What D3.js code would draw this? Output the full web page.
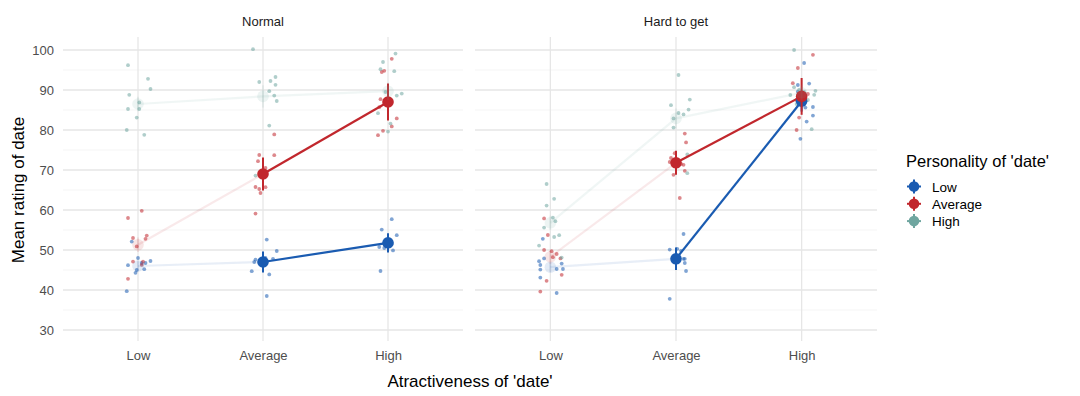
<!DOCTYPE html>
<html><head><meta charset="utf-8">
<script src="https://cdn.jsdelivr.net/npm/d3@7"></script>
<style>body{margin:0;background:#fff}svg{display:block;font-family:"Liberation Sans",Arial,sans-serif}</style>
</head><body><svg id="c" width="1080" height="396"></svg>
<script>
// ---- data ----
const panels = ["Normal", "Hard to get"];
const attractiveness = ["Low", "Average", "High"];
const personality = ["Low", "Average", "High"];
const yTicks = [30, 40, 50, 60, 70, 80, 90, 100];
const colors = ["#1a5bb1", "#c1272d", "#6fa6a0"];

// means [panel][personality][attractiveness]
const means = [
  [[46.0, 47.0, 51.8], [51.3, 69.0, 87.0], [86.5, 88.4, 89.7]],
  [[45.7, 47.8, 87.2], [48.3, 71.8, 88.4], [56.8, 82.9, 89.3]]
];
const ses = [
  [[1.2, 2.6, 2.4], [1.8, 4.1, 4.6], [1.8, 2.8, 2.2]],
  [[1.2, 2.8, 2.6], [1.8, 3.0, 4.6], [1.8, 2.5, 2.0]]
];

// raw values [panel][personality][attractiveness]
const rawValues = [
  [
    [[52.1,48,47.25,46.75,46.75,46.2,45.2,45,44.3,39.7],
     [52.6,49.75,47.6,47,47.8,44.7,43.9,38.5,47.5,48],
     [57.7,55.1,53.7,50.75,49.9,44.75,52,51.5,50.5]],
    [[59.8,58,53.6,52.8,53,50.9,47.1,47.1,46.3,42.8],
     [78.9,73.75,73.7,72.2,70.5,65.75,65.25,65.7,64.25,59.1],
     [97.8,94.8,94.5,87.7,85.7,82.9,80.9,79.8,78.7,87]],
    [[96.2,92.8,90.25,88.8,86.9,85.25,85.25,83.1,80,78.8],
     [100.2,93.25,92,92.25,91.3,89.7,88.6,87.25,81.1,68.6],
     [99.1,97,95.2,94.7,89.1,88.6,84.2,81.6,79.6,89.5]]
  ],
  [
    [[52.8,47.9,47.2,46.25,46.6,45.1,45.25,45.25,43.1,39.25],
     [54,50.1,50.3,49.8,47.8,47.8,46.75,44.75,37.8,48.2],
     [96.75,91.6,91.25,89.6,85.75,83.6,82.1,77.8,85.6,88]],
    [[57.9,53.75,50,49.7,49,48.2,47.9,43.8,42.3,39.6],
     [79.1,76.9,74.2,73,71.3,69.8,68.8,63,72,71.5],
     [98.8,95.5,91.7,87.5,83.1,80,88.5,89,88,87]],
    [[66.5,62.8,61.1,58.1,57.2,55.6,53.7,53.25,51.1,48.1],
     [93.75,87.6,86.2,85.1,84.25,83.9,82.9,80.6,73.9,69.2],
     [100,90.7,89.8,88.75,88.8,86.5,80.2,89.5,87.5,90]]
  ]
];
// horizontal jitter in category units, same layout as rawValues
const rawJitter = [
  [
    [[-0.05,0,0.10,0.06,0.03,-0.08,0.05,-0.01,-0.02,-0.09],
     [0.03,0.11,-0.06,-0.07,0.08,-0.09,0.05,0.03,0,0.02],
     [0.03,-0.05,0.07,-0.07,0.04,-0.06,-0.02,0.03,-0.03]],
    [[0.03,-0.08,0.07,0.06,-0.04,-0.01,-0.04,0.04,0.03,-0.08],
     [0.09,-0.03,0.09,-0.04,0.02,-0.06,-0.03,0.02,-0.02,-0.06],
     [0.03,-0.03,-0.05,-0.06,-0.07,0.07,0.03,-0.04,-0.08,0.01]],
    [[-0.08,0.08,0.10,-0.07,0.01,-0.08,0.01,-0.01,-0.09,0.05],
     [-0.08,0.10,-0.03,0.06,0.10,0.05,0.09,0.11,0.05,-0.06],
     [0.06,-0.04,-0.06,0.05,0.11,0.07,-0.08,0.02,0,-0.02]]
  ],
  [
    [[-0.06,-0.05,-0.09,-0.08,0.09,-0.08,0.05,0.10,-0.08,0.05],
     [0.06,-0.05,0.01,0.04,0.06,0.07,0.07,0.08,-0.05,-0.02],
     [0.02,0.06,-0.03,-0.03,0.09,0.09,0.04,-0.01,0.03,-0.02]],
    [[-0.05,-0.02,-0.05,0.01,0.05,0.02,0.08,0.09,-0.03,-0.08],
     [0.07,0.08,-0.01,-0.04,0.06,0.07,-0.02,0.03,-0.05,0.04],
     [0.09,-0.03,-0.07,-0.04,-0.02,-0.04,0.01,0.05,0.03,-0.02]],
    [[-0.03,0.03,-0.03,0.02,0.04,-0.05,0.07,0.03,-0.09,0.09],
     [0.02,0.11,-0.04,0.10,0.02,0.06,-0.02,-0.02,0.09,0.09],
     [-0.06,-0.06,0.11,-0.09,0.10,-0.04,0.08,0.02,0.05,-0.02]]
  ]
];

// ---- layout ----
const svg = d3.select("#c");
const panelRanges = [[63, 463], [475, 877]];
const plotTop = 37, plotBottom = 341;
const y = d3.scaleLinear().domain([27.25, 103.25]).range([plotBottom, plotTop]);
const font = '"Liberation Sans", Arial, sans-serif';
const solid = (pi, ai) => pi !== 2 && ai !== 0;

panels.forEach((pname, p) => {
  const x = d3.scalePoint().domain(attractiveness).range(panelRanges[p]).padding(0.6);
  const g = svg.append("g");
  const [x0, x1] = panelRanges[p];
  g.selectAll(".minor").data(d3.range(35, 100, 10)).join("line")
    .attr("x1", x0).attr("x2", x1).attr("y1", d => y(d)).attr("y2", d => y(d))
    .attr("stroke", "#f0f0f0").attr("stroke-width", 0.7);
  g.selectAll(".major").data(yTicks).join("line")
    .attr("x1", x0).attr("x2", x1).attr("y1", d => y(d)).attr("y2", d => y(d))
    .attr("stroke", "#e6e6e6").attr("stroke-width", 1.3);
  g.selectAll(".vgrid").data(attractiveness).join("line")
    .attr("x1", d => x(d)).attr("x2", d => x(d)).attr("y1", plotTop).attr("y2", plotBottom)
    .attr("stroke", "#e6e6e6").attr("stroke-width", 1.3);
  svg.append("text").attr("x", (x0 + x1) / 2).attr("y", 26).attr("text-anchor", "middle")
    .attr("font-size", 13).attr("fill", "#1a1a1a").text(pname);
  const ax = svg.append("g").attr("transform", `translate(0,${plotBottom + 3})`)
    .call(d3.axisBottom(x).tickSize(0).tickPadding(7));
  ax.select(".domain").remove();
  ax.selectAll("text").attr("font-size", 13).attr("fill", "#4d4d4d").attr("font-family", font);

  const step = x.step();
  personality.forEach((per, pi) => {
    attractiveness.forEach((att, ai) => {
      const vals = rawValues[p][pi][ai];
      const jit = rawJitter[p][pi][ai];
      g.selectAll(null).data(vals).join("circle")
        .attr("cx", (d, i) => x(att) + jit[i] * step)
        .attr("cy", d => y(d)).attr("r", 1.9)
        .attr("fill", colors[pi]).attr("fill-opacity", 0.55);
    });
  });
  personality.forEach((per, pi) => {
    for (let ai = 0; ai < 2; ai++) {
      const s = solid(pi, ai) && solid(pi, ai + 1);
      g.append("line")
        .attr("x1", x(attractiveness[ai])).attr("y1", y(means[p][pi][ai]))
        .attr("x2", x(attractiveness[ai + 1])).attr("y2", y(means[p][pi][ai + 1]))
        .attr("stroke", colors[pi]).attr("stroke-width", 2.2)
        .attr("stroke-opacity", s ? 1 : 0.1);
    }
  });
  personality.forEach((per, pi) => {
    attractiveness.forEach((att, ai) => {
      const s = solid(pi, ai);
      const m = means[p][pi][ai], se = ses[p][pi][ai];
      g.append("line").attr("x1", x(att)).attr("x2", x(att))
        .attr("y1", y(m - se)).attr("y2", y(m + se))
        .attr("stroke", colors[pi]).attr("stroke-width", 2)
        .attr("stroke-opacity", s ? 1 : 0.1);
      g.append("circle").attr("cx", x(att)).attr("cy", y(m)).attr("r", 5.8)
        .attr("fill", colors[pi]).attr("fill-opacity", s ? 1 : 0.12);
    });
  });
});

const ay = svg.append("g").attr("transform", "translate(58,0)")
  .call(d3.axisLeft(y).tickValues(yTicks).tickSize(0).tickPadding(4));
ay.select(".domain").remove();
ay.selectAll("text").attr("font-size", 13).attr("fill", "#4d4d4d").attr("font-family", font);

svg.append("text").attr("x", 470).attr("y", 387).attr("text-anchor", "middle")
  .attr("font-size", 17).attr("fill", "#000").text("Atractiveness of 'date'");
svg.append("text").attr("transform", "translate(24,190) rotate(-90)").attr("text-anchor", "middle")
  .attr("font-size", 17).attr("fill", "#000").text("Mean rating of date");

const lg = svg.append("g");
lg.append("text").attr("x", 906).attr("y", 167).attr("font-size", 16.5).attr("fill", "#000")
  .text("Personality of 'date'");
personality.forEach((per, pi) => {
  const cy = 186.5 + pi * 17.3;
  lg.append("line").attr("x1", 907).attr("x2", 921).attr("y1", cy).attr("y2", cy)
    .attr("stroke", colors[pi]).attr("stroke-width", 2);
  lg.append("line").attr("x1", 914).attr("x2", 914).attr("y1", cy - 7).attr("y2", cy + 7)
    .attr("stroke", colors[pi]).attr("stroke-width", 2);
  lg.append("circle").attr("cx", 914).attr("cy", cy).attr("r", 5.3).attr("fill", colors[pi]);
  lg.append("text").attr("x", 932).attr("y", cy + 5).attr("font-size", 13.5).attr("fill", "#000").text(per);
});
</script></body></html>
